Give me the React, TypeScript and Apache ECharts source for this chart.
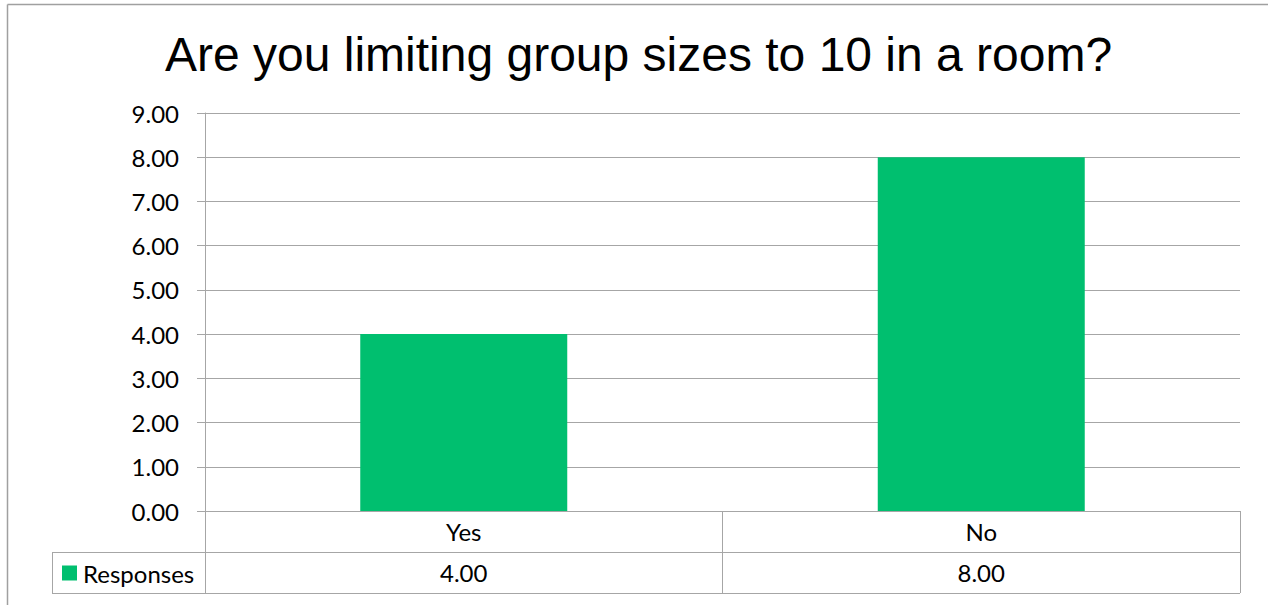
import React, { useEffect, useRef } from "react";
import * as echarts from "echarts";

const categories = ["Yes", "No"];
const responses = [4, 8];
const yTicks = { min: 0, max: 9, interval: 1 };
const seriesName = "Responses";
const titleText = "Are you limiting group sizes to 10 in a room?";

const LINE = "#a6a6a6";
const GREEN = "#00bf6f";
const FONT = "Lato, 'Open Sans', sans-serif";
const FS = 24;

export default function App() {
  const ref = useRef<HTMLDivElement>(null);
  useEffect(() => {
    document.body.style.margin = "0";
    const chart = echarts.init(ref.current!, null, { renderer: "svg" });
    chart.setOption({
      animation: false,
      backgroundColor: "#ffffff",
      title: {
        text: titleText,
        left: 165,
        top: 30,
        padding: 0,
        textStyle: {
          fontFamily: "'Liberation Sans', Arial, sans-serif",
          fontSize: 48,
          fontWeight: "normal",
          color: "#000",
        },
      },
      legend: {
        left: 57,
        top: 556,
        itemWidth: 15,
        itemHeight: 15,
        icon: "rect",
        itemGap: 5,
        textStyle: { fontFamily: FONT, fontSize: FS, color: "#000", padding: [0, 0, 0, 1] },
        data: [seriesName],
      },
      grid: { left: 205, right: 28, top: 113, bottom: 94 },
      xAxis: {
        type: "category",
        data: categories,
        axisLine: { show: true, lineStyle: { color: LINE, width: 1 } },
        axisTick: { show: true, length: 82, lineStyle: { color: LINE, width: 1 } },
        axisLabel: {
          margin: 0,
          fontFamily: FONT,
          fontSize: FS,
          color: "#000",
          lineHeight: 41,
          formatter: (v: string, i: number) => `${v}\n${responses[i].toFixed(2)}`,
        },
      },
      yAxis: {
        type: "value",
        min: yTicks.min,
        max: yTicks.max,
        interval: yTicks.interval,
        axisLine: { show: true, lineStyle: { color: LINE, width: 1 } },
        axisTick: { show: true, length: 8, lineStyle: { color: LINE, width: 1 } },
        splitLine: { show: true, lineStyle: { color: LINE, width: 1 } },
        axisLabel: {
          margin: 26,
          fontFamily: FONT,
          fontSize: FS,
          color: "#000",
          formatter: (v: number) => v.toFixed(2),
        },
      },
      series: [
        {
          name: seriesName,
          type: "bar",
          data: responses,
          barCategoryGap: "60%",
          itemStyle: { color: GREEN },
        },
      ],
      graphic: [
        { type: "line", shape: { x1: 7.5, y1: 4.5, x2: 1268, y2: 4.5 }, style: { stroke: "#a0a0a0", lineWidth: 1.5 } },
        { type: "line", shape: { x1: 7.5, y1: 4.5, x2: 7.5, y2: 605 }, style: { stroke: "#a0a0a0", lineWidth: 1.5 } },
        { type: "line", shape: { x1: 52, y1: 552.5, x2: 1240, y2: 552.5 }, style: { stroke: LINE, lineWidth: 1 } },
        { type: "line", shape: { x1: 52, y1: 593.5, x2: 1240, y2: 593.5 }, style: { stroke: LINE, lineWidth: 1 } },
        { type: "line", shape: { x1: 52.5, y1: 552, x2: 52.5, y2: 594 }, style: { stroke: LINE, lineWidth: 1 } },
      ],
    });
    return () => chart.dispose();
  }, []);
  return <div ref={ref} style={{ position: "absolute", left: 0, top: 0, width: 1268, height: 605 }} />;
}
